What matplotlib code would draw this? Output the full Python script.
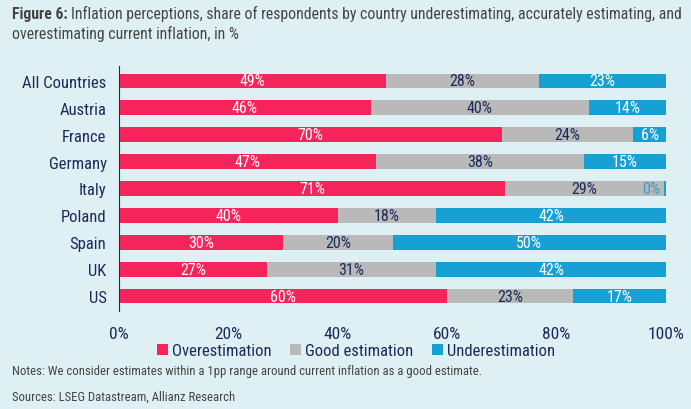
import matplotlib.pyplot as plt
from matplotlib import font_manager

# data
countries = ["All Countries", "Austria", "France", "Germany", "Italy",
             "Poland", "Spain", "UK", "US"]
over = [48.8, 46, 70, 47, 70.6, 40, 30, 27, 60]
good = [28, 40, 24, 38, 29.0, 18, 20, 31, 23]
under = [23.2, 14, 6, 15, 0.4, 42, 50, 42, 17]
series_names = ["Overestimation", "Good estimation", "Underestimation"]
ticks = [0, 20, 40, 60, 80, 100]

bg = "#dff0f5"
navy = "#1c2a5a"
grey_txt = "#444444"
colors = ["#f5245a", "#b9b9b9", "#17a0d3"]
label_colors = ["white", navy, "white"]

# pick a narrow-ish font if one is there
names = {f.name for f in font_manager.fontManager.ttflist}
fam = "DejaVu Sans"
for cand in ["Roboto Condensed", "Liberation Sans Narrow", "Open Sans Condensed", "Lato"]:
    if cand in names:
        fam = cand
        break
plt.rcParams["font.family"] = [fam, "DejaVu Sans"]

fig = plt.figure(figsize=(6.91, 4.10), dpi=100, facecolor=bg)
ax = fig.add_axes([119 / 691, 1 - 312 / 410, 547 / 691, 245 / 410])
ax.set_facecolor(bg)

y = list(range(len(countries)))
left = [0] * len(countries)
for vals, col, lcol, name in zip([over, good, under], colors, label_colors, series_names):
    ax.barh(y, vals, left=left, height=0.54, color=col, label=name)
    for i, v in enumerate(vals):
        txt = f"{round(v)}%"
        if v < 2:
            ax.text(left[i] + v - 1, i, txt, ha="right", va="center",
                    color="#3a9cc8", fontsize=11.5)
        else:
            ax.text(left[i] + v / 2, i, txt, ha="center", va="center",
                    color=lcol, fontsize=11.5)
    left = [l + v for l, v in zip(left, vals)]

ax.set_xlim(0, 100)
ax.set_ylim(len(countries) - 0.5 + 0.05, -0.5 - 0.05)
ax.set_yticks(y)
ax.set_yticklabels(countries, fontsize=12, color=navy)
ax.set_xticks(ticks)
ax.set_xticklabels([f"{t}%" for t in ticks], fontsize=12.5, color=navy)
ax.tick_params(length=0, pad=9)
ax.tick_params(axis="x", pad=11)
for s in ["top", "right", "bottom"]:
    ax.spines[s].set_visible(False)
ax.spines["left"].set_color(navy)

fig.legend(loc="center", bbox_to_anchor=(356 / 691, 1 - 352 / 410), ncol=3, frameon=False,
           fontsize=12, handlelength=0.65, handleheight=0.65, handletextpad=0.25,
           columnspacing=1.1, labelcolor=navy)

# title: bold prefix + normal rest
t = fig.text(12 / 691, 1 - 14 / 410, "Figure 6:", fontsize=11.3, color=grey_txt,
             va="center", fontweight="bold")
fig.canvas.draw()
bb = t.get_window_extent()
fig.text((bb.x1 + 3) / 691, 1 - 14 / 410,
         "Inflation perceptions, share of respondents by country underestimating, accurately estimating, and",
         fontsize=11.3, color=grey_txt, va="center")
fig.text(12 / 691, 1 - 34 / 410, "overestimating current inflation, in %",
         fontsize=11.3, color=grey_txt, va="center")
fig.text(12 / 691, 1 - 372 / 410,
         "Notes: We consider estimates within a 1pp range around current inflation as a good estimate.",
         fontsize=9.2, color=grey_txt, va="center")
fig.text(12 / 691, 1 - 397 / 410, "Sources: LSEG Datastream, Allianz Research",
         fontsize=9.2, color=grey_txt, va="center")

fig.savefig("out.png", dpi=100, facecolor=bg)
